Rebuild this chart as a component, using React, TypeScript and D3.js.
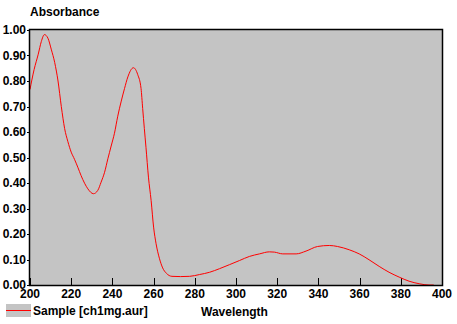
import React from "react";
import * as d3 from "d3";

// spectrum
const wavelength = [
  200, 202, 204, 205.5, 207, 208.7, 210.3, 212, 213.6, 215.2, 216.8, 218.4, 220,
  221.6, 223.2, 224.8, 226.5, 228.1, 230.8, 232.9, 234.5, 236.2, 237.8, 239.4,
  241, 242.6, 244.2, 245.9, 247.5, 250.2, 252.3, 253.9, 254.7, 255.5, 256.3,
  257.5, 258.8, 260, 261.2, 262.8, 264.4, 266.2, 268.9, 273, 277.5, 282.3,
  287.2, 292, 296.9, 301.7, 306.5, 311.4, 316.2, 318.6, 322.7, 329.2, 334,
  339.6, 345.3, 349.3, 355, 359.8, 364.6, 369.5, 374.3, 379.2, 384, 388.9,
  393.7, 396,
];
const absorbance = [
  0.767, 0.845, 0.905, 0.955, 0.982, 0.968, 0.925, 0.872, 0.8, 0.7, 0.614,
  0.562, 0.521, 0.493, 0.462, 0.429, 0.399, 0.377, 0.358, 0.371, 0.403, 0.442,
  0.495, 0.545, 0.595, 0.662, 0.718, 0.771, 0.816, 0.852, 0.825, 0.771, 0.692,
  0.614, 0.54, 0.423, 0.331, 0.227, 0.162, 0.105, 0.067, 0.046, 0.034, 0.033,
  0.034, 0.041, 0.05, 0.064, 0.08, 0.096, 0.112, 0.122, 0.13, 0.129, 0.122,
  0.122, 0.133, 0.151, 0.155, 0.151, 0.138, 0.122, 0.099, 0.073, 0.05, 0.031,
  0.015, 0.005, 0, 0,
];
const xTicks = [200, 220, 240, 260, 280, 300, 320, 340, 360, 380, 400];
const yTicks = [0, 0.1, 0.2, 0.3, 0.4, 0.5, 0.6, 0.7, 0.8, 0.9, 1.0];
const seriesName = "Sample [ch1mg.aur]";

const W = 457;
const H = 324;
const plot = { left: 30, top: 30, right: 442, bottom: 285 };
const font = "'Liberation Sans', Arial, sans-serif";

export default function App() {
  const x = d3.scaleLinear().domain([200, 400]).range([plot.left, plot.right]);
  const y = d3.scaleLinear().domain([0, 1]).range([plot.bottom, plot.top]);
  const fmt = d3.format(".2f");

  const pts = wavelength.map((w, i) => [w, absorbance[i]] as [number, number]);
  const path = d3
    .line<[number, number]>()
    .x(d => x(d[0]))
    .y(d => y(d[1]))
    .curve(d3.curveMonotoneX)(pts);

  return (
    <svg
      width={W}
      height={H}
      style={{ position: "absolute", left: 0, top: 0, background: "#fff" }}
      fontFamily={font}
      fontWeight="bold"
      fontSize={12}
    >
      <defs>
        <clipPath id="plotclip">
          <rect x={plot.left} y={plot.top} width={plot.right - plot.left} height={plot.bottom - plot.top} />
        </clipPath>
      </defs>
      <rect
        x={plot.left}
        y={plot.top}
        width={plot.right - plot.left}
        height={plot.bottom - plot.top}
        fill="#c4c4c4"
      />
      <text x={30} y={16}>Absorbance</text>

      {/* y axis */}
      {yTicks.map(t => (
        <g key={"y" + t}>
          <line x1={27} x2={plot.left} y1={Math.round(y(t)) + 0.5} y2={Math.round(y(t)) + 0.5} stroke="#000" />
          <text x={26} y={t === 0 ? y(t) - 0.5 : y(t)} dy="0.35em" textAnchor="end">{fmt(t)}</text>
        </g>
      ))}

      {/* x axis */}
      {xTicks.map(t => (
        <g key={"x" + t}>
          <line x1={Math.round(x(t)) + 0.5} x2={Math.round(x(t)) + 0.5} y1={plot.bottom - 7} y2={plot.bottom} stroke="#000" />
          <text x={x(t)} y={298} textAnchor="middle">{t}</text>
        </g>
      ))}

      <path d={path ?? ""} fill="none" stroke="#ff0000" strokeWidth={1} clipPath="url(#plotclip)" />

      <rect
        x={plot.left - 0.5}
        y={plot.top - 0.5}
        width={plot.right - plot.left + 1}
        height={plot.bottom - plot.top + 1}
        fill="none"
        stroke="#000"
        strokeWidth={1.5}
      />

      {/* legend */}
      <rect x={6} y={304} width={25} height={13} fill="#c4c4c4" />
      <line x1={6} x2={31} y1={310.5} y2={310.5} stroke="#ff0000" />
      <text x={33} y={315}>{seriesName}</text>
      <text x={201} y={315.5}>Wavelength</text>
    </svg>
  );
}
